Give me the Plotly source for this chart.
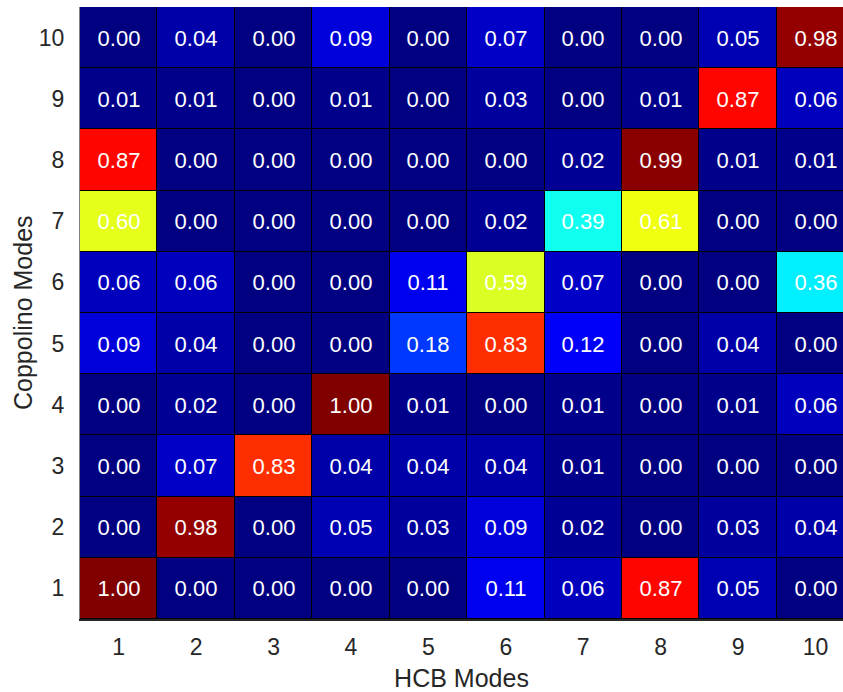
import plotly.graph_objects as go

x_labels = [1, 2, 3, 4, 5, 6, 7, 8, 9, 10]
y_labels = [1, 2, 3, 4, 5, 6, 7, 8, 9, 10]

# rows from Coppolino mode 1 (bottom) to 10 (top)
row1 = [1.00, 0.00, 0.00, 0.00, 0.00, 0.11, 0.06, 0.87, 0.05, 0.00]
row2 = [0.00, 0.98, 0.00, 0.05, 0.03, 0.09, 0.02, 0.00, 0.03, 0.04]
row3 = [0.00, 0.07, 0.83, 0.04, 0.04, 0.04, 0.01, 0.00, 0.00, 0.00]
row4 = [0.00, 0.02, 0.00, 1.00, 0.01, 0.00, 0.01, 0.00, 0.01, 0.06]
row5 = [0.09, 0.04, 0.00, 0.00, 0.18, 0.83, 0.12, 0.00, 0.04, 0.00]
row6 = [0.06, 0.06, 0.00, 0.00, 0.11, 0.59, 0.07, 0.00, 0.00, 0.36]
row7 = [0.60, 0.00, 0.00, 0.00, 0.00, 0.02, 0.39, 0.61, 0.00, 0.00]
row8 = [0.87, 0.00, 0.00, 0.00, 0.00, 0.00, 0.02, 0.99, 0.01, 0.01]
row9 = [0.01, 0.01, 0.00, 0.01, 0.00, 0.03, 0.00, 0.01, 0.87, 0.06]
row10 = [0.00, 0.04, 0.00, 0.09, 0.00, 0.07, 0.00, 0.00, 0.05, 0.98]

z = [row1, row2, row3, row4, row5, row6, row7, row8, row9, row10]
text = [[f"{v:.2f}" for v in r] for r in z]

jet = [
    [0.0, "rgb(0,0,128)"],
    [0.125, "rgb(0,0,255)"],
    [0.375, "rgb(0,255,255)"],
    [0.625, "rgb(255,255,0)"],
    [0.875, "rgb(255,0,0)"],
    [1.0, "rgb(128,0,0)"],
]

fig = go.Figure(
    go.Heatmap(
        x=x_labels,
        y=y_labels,
        z=z,
        text=text,
        texttemplate="%{text}",
        textfont=dict(family="Liberation Sans, Arial", size=22, color="white"),
        colorscale=jet,
        zmin=0,
        zmax=1,
        showscale=False,
        xgap=1,
        ygap=1,
        hoverinfo="skip",
    )
)

axis_font = dict(family="Liberation Sans, Arial", size=23, color="#262626")
fig.update_layout(
    width=843,
    height=692,
    margin=dict(l=80, r=0, t=7, b=73),
    paper_bgcolor="white",
    plot_bgcolor="black",
    font=axis_font,
    xaxis=dict(
        title=dict(text="HCB Modes", font=dict(size=25, color="#262626")),
        tickmode="array",
        tickvals=x_labels,
        ticktext=[str(v) for v in x_labels],
        range=[0.5, 10.355],
        showgrid=False,
        zeroline=False,
        showline=True,
        linecolor="#262626",
        linewidth=2,
        ticks="",
        ticklabelstandoff=6,
    ),
    yaxis=dict(
        tickmode="array",
        tickvals=y_labels,
        ticktext=[str(v) for v in y_labels],
        range=[0.5, 10.5],
        showgrid=False,
        zeroline=False,
        showline=True,
        linecolor="#808080",
        linewidth=1,
        ticks="",
        ticklabelstandoff=10,
    ),
    annotations=[
        dict(
            text="Coppolino Modes",
            xref="paper",
            yref="paper",
            x=(23 - 80) / 763,
            y=0.5,
            xanchor="center",
            yanchor="middle",
            textangle=-90,
            showarrow=False,
            font=dict(family="Liberation Sans, Arial", size=25, color="#262626"),
        )
    ],
)

fig.write_html("out.html")
